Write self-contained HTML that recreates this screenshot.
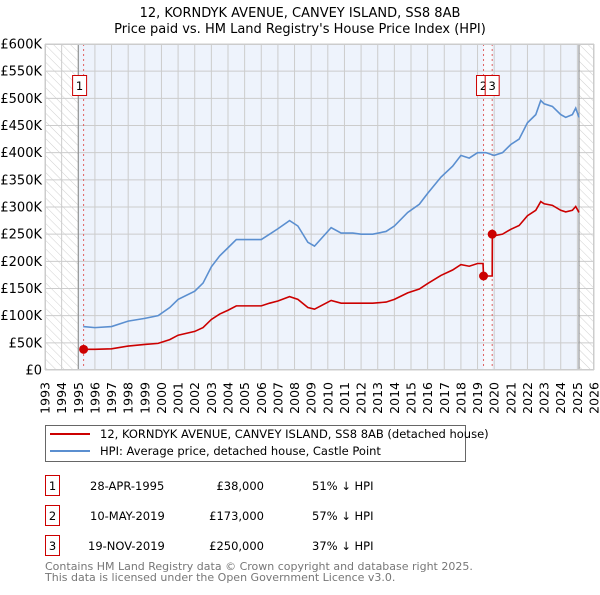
<!DOCTYPE html>
<html><head><meta charset="utf-8"><style>
body{margin:0;background:#fff;font-family:"Liberation Sans","DejaVu Sans",sans-serif;}
svg text{font-family:"DejaVu Sans","Liberation Sans",sans-serif;}
</style></head><body>
<svg id="c" width="600" height="590" xmlns="http://www.w3.org/2000/svg">
<defs><pattern id="hatch" width="6" height="6" patternUnits="userSpaceOnUse" patternTransform="rotate(-45)"><line x1="0" y1="0" x2="0" y2="6" stroke="#bbb" stroke-width="0.7"/></pattern></defs>
<text x="300" y="17" text-anchor="middle" font-size="13">12, KORNDYK AVENUE, CANVEY ISLAND, SS8 8AB</text>
<text x="300" y="33" text-anchor="middle" font-size="13">Price paid vs. HM Land Registry's House Price Index (HPI)</text>
<g id="plot"></g>
<g>
<rect x="45.5" y="425.5" width="420" height="36" fill="#fff" stroke="#666"/>
<line x1="50" y1="434" x2="90" y2="434" stroke="#cc0000" stroke-width="2"/>
<text x="100" y="438" font-size="11.5">12, KORNDYK AVENUE, CANVEY ISLAND, SS8 8AB (detached house)</text>
<line x1="50" y1="451" x2="90" y2="451" stroke="#5b8fd0" stroke-width="2"/>
<text x="100" y="455" font-size="11.5">HPI: Average price, detached house, Castle Point</text>
</g>
<g font-size="11.5">
<rect x="45.5" y="475.5" width="14" height="20" fill="#fff" stroke="#cc0000"/><text x="52.5" y="490" text-anchor="middle">1</text>
<text x="90" y="490">28-APR-1995</text><text x="264" y="490" text-anchor="end">£38,000</text><text x="312" y="490">51% ↓ HPI</text>
<rect x="45.5" y="505.5" width="14" height="20" fill="#fff" stroke="#cc0000"/><text x="52.5" y="520" text-anchor="middle">2</text>
<text x="90" y="520">10-MAY-2019</text><text x="264" y="520" text-anchor="end">£173,000</text><text x="312" y="520">57% ↓ HPI</text>
<rect x="45.5" y="535.5" width="14" height="20" fill="#fff" stroke="#cc0000"/><text x="52.5" y="550" text-anchor="middle">3</text>
<text x="88" y="550">19-NOV-2019</text><text x="264" y="550" text-anchor="end">£250,000</text><text x="312" y="550">37% ↓ HPI</text>
</g>
<text x="45" y="570" font-size="11" fill="#777">Contains HM Land Registry data © Crown copyright and database right 2025.</text>
<text x="45" y="581" font-size="11" fill="#777">This data is licensed under the Open Government Licence v3.0.</text>
</svg>
<script>
const hpiYears=[1995.3,1996,1997,1998,1999,1999.8,2000.5,2001,2002,2002.5,2003,2003.5,2004,2004.5,2005,2006,2006.5,2007,2007.7,2008.2,2008.8,2009.2,2009.7,2010.2,2010.8,2011.5,2012,2012.7,2013.5,2014,2014.8,2015.5,2016,2016.8,2017.5,2018,2018.5,2019,2019.5,2020,2020.5,2021,2021.5,2022,2022.5,2022.8,2023,2023.5,2024,2024.3,2024.7,2024.9,2025.1];
const hpiValues=[80,78,80,90,95,100,115,130,145,160,190,210,225,240,240,240,250,260,275,265,235,228,245,262,252,252,250,250,255,265,290,305,325,355,375,395,390,400,400,395,400,415,425,455,470,496,490,485,470,465,470,482,465];
const redYears=[1995.32,1996,1997,1998,1999,1999.8,2000.5,2001,2002,2002.5,2003,2003.5,2004,2004.5,2005,2006,2006.5,2007,2007.7,2008.2,2008.8,2009.2,2009.7,2010.2,2010.8,2011.5,2012,2012.7,2013.5,2014,2014.8,2015.5,2016,2016.8,2017.5,2018,2018.5,2019,2019.33,2019.36,2019.88,2019.89,2020,2020.5,2021,2021.5,2022,2022.5,2022.8,2023,2023.5,2024,2024.3,2024.7,2024.9,2025.1];
const redValues=[38,38,39,44,47,49,56,64,71,78,93,103,110,118,118,118,123,127,135,130,115,112,120,128,123,123,123,123,125,130,142,149,159,174,184,194,191,196,196,173,173,250,247,250,259,266,284,294,310,306,303,294,291,294,301,290];
const saleYears=[1995.32,2019.36,2019.88];
const saleValues=[38,173,250];
const saleLabels=["1","2","3"];
const yTicks=[0,50,100,150,200,250,300,350,400,450,500,550,600];
const yTickLabels=["£0","£50K","£100K","£150K","£200K","£250K","£300K","£350K","£400K","£450K","£500K","£550K","£600K"];
const xTicks=[1993,1994,1995,1996,1997,1998,1999,2000,2001,2002,2003,2004,2005,2006,2007,2008,2009,2010,2011,2012,2013,2014,2015,2016,2017,2018,2019,2020,2021,2022,2023,2024,2025,2026];
const L=45,R=594,T=44,B=370;
const xs=y=>L+(y-1993)/(2026-1993)*(R-L);
const ys=v=>B-v/600*(B-T);
const NS="http://www.w3.org/2000/svg";
const g=document.getElementById('plot');
function mk(t,a,p){const e=document.createElementNS(NS,t);for(const k in a)e.setAttribute(k,a[k]);(p||g).appendChild(e);return e;}
let e;
e=mk('rect',{x:L,y:T,width:R-L,height:B-T,fill:'#fff'});
e=mk('rect',{x:xs(1995),y:T,width:xs(2025.1)-xs(1995),height:B-T,fill:'#eef3fc'});


e=mk('rect',{x:xs(saleYears[1]),y:T,width:xs(saleYears[2])-xs(saleYears[1]),height:B-T,fill:'#f8fafe'});
e=mk('rect',{x:L,y:T,width:xs(1995)-L,height:B-T,fill:'url(#hatch)'});


e=mk('rect',{x:xs(2025.1),y:T,width:R-xs(2025.1),height:B-T,fill:'url(#hatch)'});


xTicks.forEach(t=>{
 mk('line',{x1:xs(t),y1:T,x2:xs(t),y2:B,stroke:'#ccc'});
 const tx=mk('text',{x:0,y:0,'font-size':12.5,'text-anchor':'end',transform:`translate(${xs(t)+4.5},${B+12}) rotate(-90)`});
 tx.textContent=t;
 
 
});
yTicks.forEach((t,i)=>{
 mk('line',{x1:L,y1:ys(t),x2:R,y2:ys(t),stroke:'#ccc'});
 const tx=mk('text',{x:L-3,y:ys(t)+4.5,'font-size':13,'text-anchor':'end'});
 tx.textContent=yTickLabels[i];
 
 
});
mk('line',{x1:xs(1995),y1:T,x2:xs(1995),y2:B,stroke:'#888'});
mk('line',{x1:xs(2025.1),y1:T,x2:xs(2025.1),y2:B,stroke:'#888'});
saleYears.forEach(y=>{mk('line',{x1:xs(y),y1:T,x2:xs(y),y2:B,stroke:'#e06060','stroke-dasharray':'2,3'});});
e=mk('polyline',{points:hpiYears.map((y,i)=>xs(y)+','+ys(hpiValues[i])).join(' '),fill:'none',stroke:'#5b8fd0','stroke-width':1.6});


e=mk('polyline',{points:redYears.map((y,i)=>xs(y)+','+ys(redValues[i])).join(' '),fill:'none',stroke:'#cc0000','stroke-width':1.6});


saleYears.forEach((y,i)=>{
 const c=mk('circle',{cx:xs(y),cy:ys(saleValues[i]),r:4.5,fill:'#cc0000'});
 
 
});
saleLabels.forEach((s,i)=>{
 const bx=i==0?xs(saleYears[0])-11:(i==1?xs(saleYears[1])-7:xs(saleYears[2])-7);
 const r=mk('rect',{x:bx,y:75.5,width:14,height:20,fill:'#fff',stroke:'#cc0000'});
 
 
 const t=mk('text',{x:bx+7,y:90,'font-size':11.5,'text-anchor':'middle'});
 t.textContent=s;
});
mk('rect',{x:L+0.5,y:T+0.5,width:R-L-1,height:B-T-1,fill:'none',stroke:'#ccc'});
</script>
</body></html>
